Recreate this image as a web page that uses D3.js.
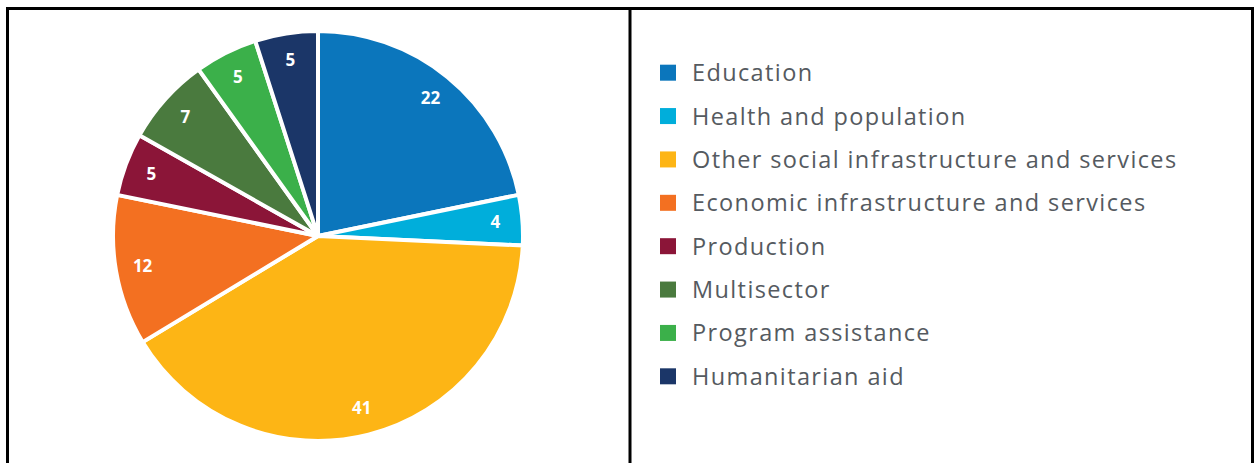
<!DOCTYPE html>
<html><head><meta charset="utf-8">
<script src="https://cdn.jsdelivr.net/npm/d3@7"></script>
<style>body{margin:0;background:#fff}svg{display:block}</style>
</head><body>
<svg id="c" width="1259" height="463"></svg>
<script>
const categories = ["Education","Health and population","Other social infrastructure and services","Economic infrastructure and services","Production","Multisector","Program assistance","Humanitarian aid"];
const values = [22,4,41,12,5,7,5,5];
const colors = ["#0B76BC","#00AEDB","#FDB515","#F37021","#8B1538","#4A7A3E","#3BB04A","#1B3668"];

const svg = d3.select("#c");
// frame
svg.append("path").attr("d","M7.5,463 V8.5 H1252.5 V463").attr("fill","none").attr("stroke","#000").attr("stroke-width",3);
svg.append("line").attr("x1",630).attr("x2",630).attr("y1",8).attr("y2",463).attr("stroke","#000").attr("stroke-width",3);

const cx=318, cy=236, R=205;
const pie = d3.pie().sort(null).value(d=>d);
const arcs = pie(values);
const arc = d3.arc().innerRadius(0).outerRadius(R);
const labelArc = d3.arc().innerRadius(178).outerRadius(178);
const g = svg.append("g").attr("transform",`translate(${cx},${cy})`);
g.selectAll("path.s").data(arcs).join("path").attr("class","s")
  .attr("d",arc).attr("fill",(d,i)=>colors[i]).attr("stroke","#fff").attr("stroke-width",4).attr("stroke-linejoin","round");
g.selectAll("text").data(arcs).join("text")
  .attr("transform",d=>`translate(${labelArc.centroid(d)})`)
  .attr("text-anchor","middle").attr("dy","0.35em")
  .attr("fill","#fff").attr("font-family","'Open Sans',sans-serif").attr("font-weight","bold").attr("font-size",17)
  .text(d=>d.data);

const y = d3.scaleBand().domain(categories).range([51,398]);
const lg = svg.append("g");
const rows = lg.selectAll("g").data(categories).join("g").attr("transform",d=>`translate(0,${y(d)+y.bandwidth()/2})`);
rows.append("rect").attr("x",660).attr("y",-8).attr("width",16).attr("height",16).attr("fill",(d,i)=>colors[i]);
rows.append("text").attr("x",692).attr("dy","0.36em").attr("fill","#555a60")
  .attr("font-family","'Open Sans',sans-serif").attr("font-size",23.5).attr("letter-spacing",1.38).text(d=>d);
</script>
</body></html>
